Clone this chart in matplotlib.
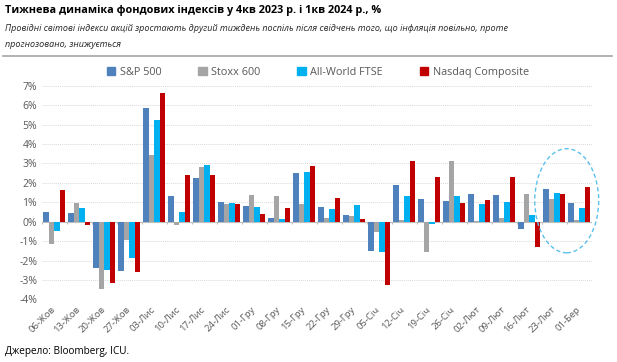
import numpy as np
import matplotlib.pyplot as plt
from matplotlib.patches import Ellipse, Patch

plt.rcParams['font.family'] = ['Open Sans', 'DejaVu Sans']

weeks = ["06-Жов", "13-Жов", "20-Жов", "27-Жов", "03-Лис", "10-Лис", "17-Лис",
         "24-Лис", "01-Гру", "08-Гру", "15-Гру", "22-Гру", "29-Гру", "05-Січ",
         "12-Січ", "19-Січ", "26-Січ", "02-Лют", "09-Лют", "16-Лют", "23-Лют",
         "01-Бер"]

sp500 = [0.48, 0.46, -2.37, -2.53, 5.88, 1.32, 2.23, 1.01, 0.79, 0.21, 2.49,
         0.77, 0.34, -1.51, 1.87, 1.19, 1.08, 1.41, 1.37, -0.38, 1.68, 0.95]
stoxx600 = [-1.13, 0.96, -3.44, -0.96, 3.42, -0.19, 2.82, 0.93, 1.36, 1.31, 0.91,
            0.21, 0.29, -0.53, 0.09, -1.56, 3.14, 0.02, 0.19, 1.41, 1.15, 0.09]
ftse_aw = [-0.50, 0.69, -2.47, -1.87, 5.24, 0.50, 2.92, 0.94, 0.74, 0.14, 2.56,
           0.64, 0.88, -1.55, 1.32, -0.14, 1.32, 0.91, 1.01, 0.34, 1.46, 0.72]
nasdaq = [1.62, -0.17, -3.16, -2.61, 6.63, 2.41, 2.39, 0.89, 0.40, 0.69, 2.85,
          1.24, 0.14, -3.25, 3.11, 2.29, 0.95, 1.13, 2.32, -1.32, 1.41, 1.77]

series = [("S&P 500", sp500, "#4F81BD"),
          ("Stoxx 600", stoxx600, "#A5A5A5"),
          ("All-World FTSE", ftse_aw, "#00B0F0"),
          ("Nasdaq Composite", nasdaq, "#C00000")]

fig = plt.figure(figsize=(6.17, 3.62), dpi=100)
ax = fig.add_axes([0.068, 0.173, 0.891, 0.590])

x = np.arange(len(weeks))
w = 0.22
for i, (name, vals, col) in enumerate(series):
    ax.bar(x + (i - 1.5) * w, vals, width=w, color=col, label=name, zorder=3)

ax.set_xlim(-0.5, len(weeks) - 0.5)
ax.set_ylim(-4, 7)
ax.set_yticks(np.arange(-4, 8))
ax.set_yticklabels([f"{v}%" for v in range(-4, 8)])
ax.yaxis.grid(True, color="#D9D9D9", linestyle=(0, (1, 1)), linewidth=0.7, zorder=0)
ax.axhline(0, color="#BFBFBF", linewidth=0.8, zorder=2)
ax.vlines(np.arange(len(weeks) + 1) - 0.5, -0.12, 0, color="#BFBFBF", linewidth=0.8, zorder=2)

ax.set_xticks(x - 0.15)
ax.set_xticklabels(weeks, rotation=45, ha="right", rotation_mode="anchor")
ax.tick_params(axis="both", length=0, labelsize=7.5, labelcolor="#595959")
ax.tick_params(axis="x", pad=4, labelsize=6.8)
for s in ax.spines.values():
    s.set_visible(False)

ell = Ellipse((20.5, 1.08), 2.56, 5.36, fill=False, edgecolor="#5BC0EB",
              linestyle=(0, (3, 2)), linewidth=1.0, zorder=4, clip_on=False)
ax.add_patch(ell)

handles = [Patch(color=c, label=n) for n, _, c in series]
fig.legend(handles=handles, loc="center", bbox_to_anchor=(0.515, 0.801), ncol=4,
           frameon=False, fontsize=7.8, labelcolor="#595959", handlelength=0.8,
           handleheight=0.8, handletextpad=0.4, columnspacing=3.4)

fig.text(0.008, 0.972, "Тижнева динаміка фондових індексів у 4кв 2023 р. і 1кв 2024 р., %",
         fontsize=7.8, fontweight="bold", va="center", color="#000000")
fig.text(0.008, 0.92, "Провідні світові індекси акцій зростають другий тиждень поспіль після свідчень того, що інфляція повільно, проте",
         fontsize=6.5, style="italic", va="center", color="#262626")
fig.text(0.008, 0.878, "прогнозовано, знижується",
         fontsize=6.5, style="italic", va="center", color="#262626")
fig.add_artist(plt.Line2D([0.005, 0.992], [0.845, 0.845], color="#A6A6A6", linewidth=1.2))
fig.text(0.008, 0.028, "Джерело: Bloomberg, ICU.", fontsize=7.2, va="center", color="#000000")

fig.savefig("out.png", dpi=100)
